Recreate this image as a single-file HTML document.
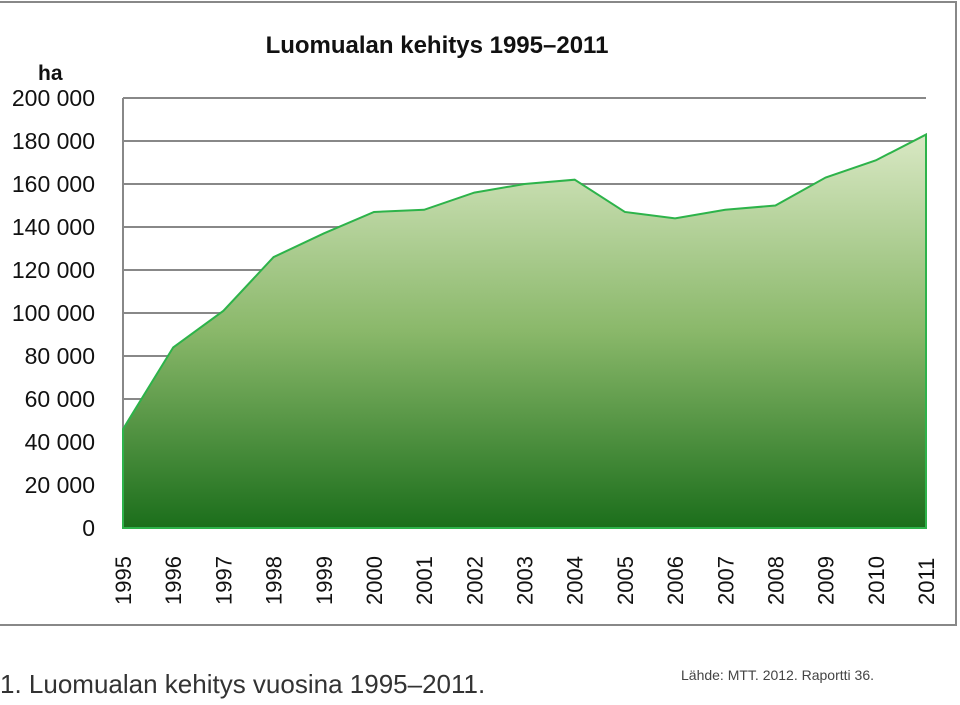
<!DOCTYPE html>
<html><head><meta charset="utf-8"><style>
body{margin:0;background:#fff;width:960px;height:700px;overflow:hidden;font-family:"Liberation Sans",sans-serif}
</style></head><body>
<svg width="960" height="700">
<defs><linearGradient id="g" x1="0" y1="0" x2="0" y2="1"><stop offset="0" stop-color="#d9e8c4"/><stop offset="0.5" stop-color="#8ab86a"/><stop offset="1" stop-color="#1b6e1b"/></linearGradient></defs>
<rect x="-5" y="2" width="961" height="623" fill="#fff" stroke="#888" stroke-width="2"/>
<text x="437" y="53" text-anchor="middle" font-size="24" font-weight="bold" fill="#111">Luomualan kehitys 1995–2011</text>
<text x="38" y="80" font-size="21" font-weight="bold" fill="#111">ha</text>
<g id="grid"></g><g id="area"></g><g id="ylab"></g><g id="xlab"></g>
<text x="0" y="693" font-size="26" fill="#333">1. Luomualan kehitys vuosina 1995–2011.</text>
<text x="681" y="680" font-size="14" fill="#444">Lähde: MTT. 2012. Raportti 36.</text>
</svg>
<script>
const years=["1995","1996","1997","1998","1999","2000","2001","2002","2003","2004","2005","2006","2007","2008","2009","2010","2011"];
const values=[46000,84000,101000,126000,137000,147000,148000,156000,160000,162000,147000,144000,148000,150000,163000,171000,183000];
const yTicks=[0,20000,40000,60000,80000,100000,120000,140000,160000,180000,200000];
const NS="http://www.w3.org/2000/svg";
const L=123,R=926,T=98,B=528,MAX=200000;
const xs=i=>L+(R-L)*i/(years.length-1);
const ys=v=>B-(B-T)*v/MAX;
function mk(t,a,p){const e=document.createElementNS(NS,t);for(const k in a)e.setAttribute(k,a[k]);p.appendChild(e);return e;}
const grid=document.getElementById('grid'),ylab=document.getElementById('ylab'),xlab=document.getElementById('xlab'),area=document.getElementById('area');
yTicks.forEach(v=>{
 const l=mk('line',{x1:L,x2:R,y1:ys(v),y2:ys(v),stroke:'#888','stroke-width':2},grid);
 
 
 const t=mk('text',{x:95,y:ys(v)+8,'text-anchor':'end','font-size':23,fill:'#111'},ylab);
 t.textContent=v===0?'0':v.toLocaleString('en-US').replace(/,/g,' ');
 
 
});
const ax=mk('line',{x1:L,x2:L,y1:T,y2:B,stroke:'#888','stroke-width':2},grid);


let d='M'+xs(0)+','+B;
values.forEach((v,i)=>{d+=' L'+xs(i)+','+ys(v);});
d+=' L'+xs(values.length-1)+','+B+' Z';
const p=mk('path',{d:d,fill:'url(#g)',stroke:'#2db34a','stroke-width':2},area);


years.forEach((y,i)=>{
 const x=xs(i)+8,yy=605;
 const t=mk('text',{x:x,y:yy,'font-size':22,fill:'#111',transform:'rotate(-90 '+x+' '+yy+')'},xlab);
 t.textContent=y;
 
 
});
</script>
</body></html>
